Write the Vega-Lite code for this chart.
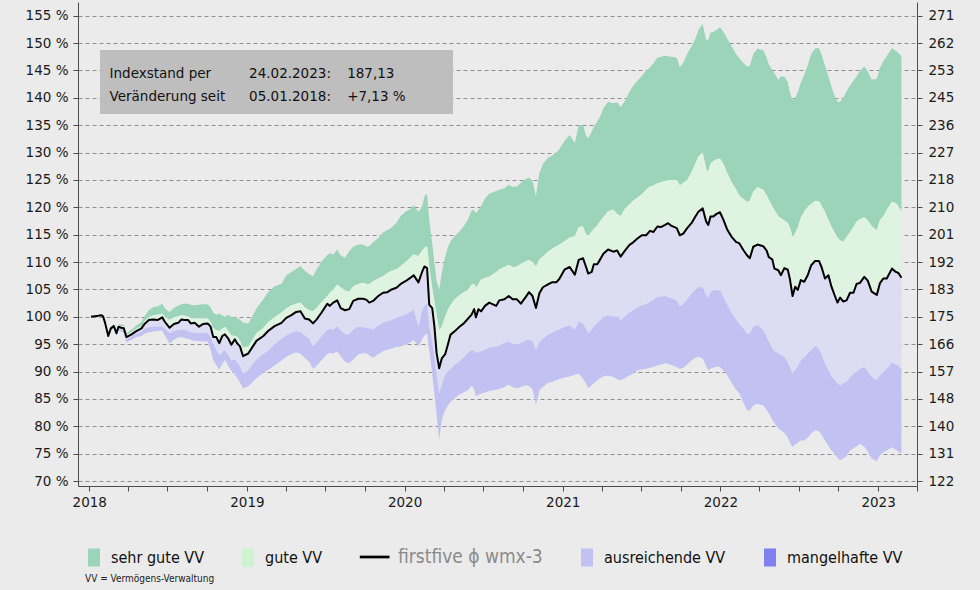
{
"$schema": "https://vega.github.io/schema/vega-lite/v6.json",
"width": 839, "height": 484,
"autosize": {"type": "none"},
"padding": {"left": 78, "top": 2, "right": 63, "bottom": 104},
"background": "#ebebeb",
"config": {"view": {"stroke": null}, "axis": {"labelFont": "DejaVu Sans", "labelFontSize": 13.5, "labelColor": "#1a1a1a", "domainColor": "#4d4d4d", "tickColor": "#4d4d4d", "tickSize": 5, "domainWidth": 1, "tickWidth": 1, "labelOverlap": false}},
"data": {"values": [
{"d":"2018-01-05","g1":100,"g2":100,"l":100,"p1":100,"p2":100},
{"d":"2018-01-22","g1":100.2,"g2":100.2,"l":100.2,"p1":100.2,"p2":100.2},
{"d":"2018-01-29","g1":100.3,"g2":100.3,"l":100.3,"p1":100.3,"p2":100.3},
{"d":"2018-02-02","g1":100.1,"g2":100.1,"l":100.1,"p1":100.1,"p2":100.1},
{"d":"2018-02-07","g1":98.8,"g2":98.8,"l":98.8,"p1":98.8,"p2":98.8},
{"d":"2018-02-14","g1":96.7,"g2":96.6,"l":96.5,"p1":96.4,"p2":96.3},
{"d":"2018-02-20","g1":98.2,"g2":98.05,"l":97.9,"p1":97.75,"p2":97.6},
{"d":"2018-02-27","g1":98.7,"g2":98.5,"l":98.3,"p1":98.1,"p2":97.9},
{"d":"2018-03-05","g1":97.5,"g2":97.25,"l":97.0,"p1":96.75,"p2":96.5},
{"d":"2018-03-10","g1":98.7,"g2":98.45,"l":98.2,"p1":97.9,"p2":97.6},
{"d":"2018-03-16","g1":98.6,"g2":98.3,"l":98.0,"p1":97.7,"p2":97.3},
{"d":"2018-03-22","g1":98.6,"g2":98.3,"l":97.9,"p1":97.5,"p2":97.0},
{"d":"2018-03-28","g1":97.0,"g2":96.7,"l":96.3,"p1":95.9,"p2":95.3},
{"d":"2018-04-09","g1":97.7,"g2":97.2,"l":96.8,"p1":96.4,"p2":95.8},
{"d":"2018-04-20","g1":98.4,"g2":97.8,"l":97.4,"p1":96.9,"p2":96.3},
{"d":"2018-05-02","g1":99.1,"g2":98.3,"l":97.9,"p1":97.3,"p2":96.5},
{"d":"2018-05-09","g1":100.1,"g2":99.2,"l":98.7,"p1":97.8,"p2":96.9},
{"d":"2018-05-19","g1":101.2,"g2":99.9,"l":99.4,"p1":98.1,"p2":97.2},
{"d":"2018-05-29","g1":101.8,"g2":100.3,"l":99.5,"p1":98.2,"p2":97.3},
{"d":"2018-06-08","g1":101.9,"g2":100.4,"l":99.4,"p1":98.2,"p2":97.4},
{"d":"2018-06-19","g1":102.4,"g2":100.6,"l":99.9,"p1":98.3,"p2":97.5},
{"d":"2018-06-25","g1":101.5,"g2":100.0,"l":99.1,"p1":97.8,"p2":96.6},
{"d":"2018-07-06","g1":100.9,"g2":99.4,"l":98.0,"p1":97.0,"p2":95.1},
{"d":"2018-07-16","g1":101.6,"g2":99.9,"l":98.7,"p1":97.4,"p2":95.8},
{"d":"2018-07-26","g1":102.0,"g2":100.1,"l":98.9,"p1":97.6,"p2":96.2},
{"d":"2018-08-02","g1":102.3,"g2":100.3,"l":99.5,"p1":97.7,"p2":96.3},
{"d":"2018-08-10","g1":102.4,"g2":100.2,"l":99.4,"p1":97.6,"p2":96.1},
{"d":"2018-08-18","g1":102.4,"g2":100.0,"l":99.4,"p1":97.4,"p2":96.0},
{"d":"2018-08-24","g1":102.2,"g2":99.8,"l":98.8,"p1":97.2,"p2":95.8},
{"d":"2018-09-02","g1":102.1,"g2":99.7,"l":98.9,"p1":97.1,"p2":95.6},
{"d":"2018-09-12","g1":102.2,"g2":99.7,"l":98.2,"p1":97.0,"p2":95.6},
{"d":"2018-09-22","g1":102.3,"g2":99.7,"l":98.7,"p1":97.1,"p2":95.5},
{"d":"2018-10-02","g1":102.3,"g2":99.7,"l":98.8,"p1":97.1,"p2":95.5},
{"d":"2018-10-09","g1":101.7,"g2":99.0,"l":98.2,"p1":96.3,"p2":94.0},
{"d":"2018-10-15","g1":100.8,"g2":97.9,"l":96.3,"p1":95.1,"p2":92.1},
{"d":"2018-10-22","g1":100.4,"g2":97.6,"l":96.3,"p1":94.0,"p2":91.2},
{"d":"2018-10-29","g1":100.6,"g2":97.4,"l":95.2,"p1":93.0,"p2":90.4},
{"d":"2018-11-05","g1":100.3,"g2":97.8,"l":96.5,"p1":93.5,"p2":91.4},
{"d":"2018-11-11","g1":100.0,"g2":98.2,"l":96.8,"p1":94.0,"p2":92.1},
{"d":"2018-11-19","g1":100.4,"g2":97.4,"l":96.0,"p1":93.0,"p2":91.0},
{"d":"2018-11-26","g1":100.0,"g2":96.6,"l":94.9,"p1":92.0,"p2":90.1},
{"d":"2018-12-04","g1":99.9,"g2":96.5,"l":95.9,"p1":92.3,"p2":89.5},
{"d":"2018-12-10","g1":99.7,"g2":96.3,"l":95.1,"p1":91.6,"p2":88.8},
{"d":"2018-12-16","g1":99.5,"g2":95.6,"l":94.6,"p1":91.0,"p2":88.0},
{"d":"2018-12-23","g1":98.9,"g2":94.4,"l":92.8,"p1":89.6,"p2":86.9},
{"d":"2019-01-04","g1":98.8,"g2":94.6,"l":93.3,"p1":90.3,"p2":87.3},
{"d":"2019-01-23","g1":101.5,"g2":97.0,"l":95.6,"p1":92.2,"p2":88.8},
{"d":"2019-02-08","g1":103.2,"g2":98.0,"l":96.5,"p1":93.2,"p2":89.8},
{"d":"2019-02-19","g1":104.5,"g2":99.0,"l":97.4,"p1":93.8,"p2":90.3},
{"d":"2019-03-06","g1":105.6,"g2":99.9,"l":98.3,"p1":95.0,"p2":91.1},
{"d":"2019-03-22","g1":106.0,"g2":100.8,"l":98.9,"p1":96.0,"p2":92.0},
{"d":"2019-04-02","g1":107.6,"g2":101.5,"l":99.8,"p1":96.6,"p2":92.7},
{"d":"2019-04-14","g1":108.2,"g2":102.1,"l":100.3,"p1":97.1,"p2":93.2},
{"d":"2019-04-25","g1":108.8,"g2":102.4,"l":100.9,"p1":97.4,"p2":93.5},
{"d":"2019-05-05","g1":109.3,"g2":102.6,"l":101.0,"p1":97.2,"p2":93.3},
{"d":"2019-05-15","g1":108.4,"g2":101.7,"l":99.7,"p1":96.6,"p2":92.5},
{"d":"2019-05-25","g1":107.8,"g2":101.2,"l":99.5,"p1":95.9,"p2":91.8},
{"d":"2019-06-03","g1":107.4,"g2":101.0,"l":98.8,"p1":94.6,"p2":90.5},
{"d":"2019-06-11","g1":108.6,"g2":101.6,"l":99.5,"p1":95.3,"p2":91.0},
{"d":"2019-06-22","g1":110.0,"g2":102.6,"l":100.7,"p1":96.4,"p2":92.0},
{"d":"2019-07-06","g1":111.3,"g2":103.8,"l":102.4,"p1":97.6,"p2":93.2},
{"d":"2019-07-12","g1":111.6,"g2":104.4,"l":102.0,"p1":97.8,"p2":93.4},
{"d":"2019-07-20","g1":111.4,"g2":105.0,"l":102.6,"p1":97.7,"p2":93.3},
{"d":"2019-07-29","g1":112.3,"g2":105.9,"l":103.0,"p1":98.3,"p2":93.7},
{"d":"2019-08-06","g1":111.2,"g2":105.4,"l":101.6,"p1":97.5,"p2":92.8},
{"d":"2019-08-16","g1":110.8,"g2":104.8,"l":101.2,"p1":96.8,"p2":91.8},
{"d":"2019-08-26","g1":112.0,"g2":104.6,"l":101.4,"p1":96.8,"p2":91.5},
{"d":"2019-09-04","g1":112.8,"g2":105.6,"l":102.9,"p1":97.7,"p2":92.2},
{"d":"2019-09-16","g1":113.2,"g2":106.0,"l":103.3,"p1":98.2,"p2":93.1},
{"d":"2019-09-27","g1":113.2,"g2":106.2,"l":103.3,"p1":98.1,"p2":93.4},
{"d":"2019-10-05","g1":112.8,"g2":106.0,"l":103.1,"p1":98.0,"p2":93.3},
{"d":"2019-10-11","g1":112.9,"g2":106.0,"l":102.6,"p1":97.9,"p2":93.0},
{"d":"2019-10-20","g1":113.6,"g2":106.5,"l":102.9,"p1":97.7,"p2":92.5},
{"d":"2019-11-01","g1":114.4,"g2":107.0,"l":103.8,"p1":98.4,"p2":93.2},
{"d":"2019-11-12","g1":115.4,"g2":107.4,"l":104.4,"p1":98.9,"p2":93.7},
{"d":"2019-11-22","g1":115.8,"g2":108.0,"l":104.5,"p1":99.2,"p2":94.0},
{"d":"2019-12-02","g1":116.3,"g2":108.4,"l":105.0,"p1":99.4,"p2":94.2},
{"d":"2019-12-13","g1":117.2,"g2":108.7,"l":105.3,"p1":99.8,"p2":94.5},
{"d":"2019-12-23","g1":118.4,"g2":109.3,"l":106.0,"p1":100.1,"p2":94.6},
{"d":"2020-01-03","g1":119.2,"g2":110.0,"l":106.5,"p1":100.4,"p2":94.9},
{"d":"2020-01-14","g1":119.7,"g2":110.8,"l":107.1,"p1":100.9,"p2":95.3},
{"d":"2020-01-22","g1":120.4,"g2":111.4,"l":107.6,"p1":101.3,"p2":95.8},
{"d":"2020-02-02","g1":119.2,"g2":111.1,"l":106.3,"p1":98.2,"p2":94.6},
{"d":"2020-02-10","g1":120.0,"g2":112.0,"l":108.1,"p1":101.0,"p2":95.8},
{"d":"2020-02-16","g1":122.0,"g2":112.6,"l":109.2,"p1":102.0,"p2":96.6},
{"d":"2020-02-22","g1":122.5,"g2":112.9,"l":108.9,"p1":102.5,"p2":97.0},
{"d":"2020-02-27","g1":117.7,"g2":109.2,"l":102.2,"p1":98.2,"p2":94.0},
{"d":"2020-03-05","g1":113.3,"g2":105.2,"l":101.6,"p1":95.3,"p2":89.6},
{"d":"2020-03-10","g1":109.8,"g2":102.8,"l":98.2,"p1":92.4,"p2":85.8},
{"d":"2020-03-15","g1":106.6,"g2":100.4,"l":93.4,"p1":89.5,"p2":82.2},
{"d":"2020-03-21","g1":104.9,"g2":97.6,"l":90.6,"p1":86.0,"p2":77.5},
{"d":"2020-03-27","g1":108.0,"g2":98.2,"l":92.4,"p1":87.6,"p2":81.2},
{"d":"2020-04-04","g1":111.0,"g2":100.1,"l":93.2,"p1":89.4,"p2":83.0},
{"d":"2020-04-10","g1":112.7,"g2":101.3,"l":94.9,"p1":90.0,"p2":83.8},
{"d":"2020-04-16","g1":113.7,"g2":102.1,"l":96.7,"p1":90.5,"p2":84.4},
{"d":"2020-04-25","g1":114.7,"g2":103.1,"l":97.3,"p1":91.2,"p2":85.1},
{"d":"2020-05-07","g1":115.6,"g2":104.0,"l":98.2,"p1":91.9,"p2":85.8},
{"d":"2020-05-17","g1":116.6,"g2":104.5,"l":98.8,"p1":92.6,"p2":86.2},
{"d":"2020-05-26","g1":117.7,"g2":104.9,"l":99.6,"p1":93.4,"p2":86.6},
{"d":"2020-06-04","g1":119.4,"g2":105.9,"l":100.4,"p1":93.9,"p2":87.4},
{"d":"2020-06-10","g1":119.5,"g2":106.0,"l":101.4,"p1":93.8,"p2":86.8},
{"d":"2020-06-14","g1":118.9,"g2":105.3,"l":99.9,"p1":93.5,"p2":85.5},
{"d":"2020-06-20","g1":119.5,"g2":106.0,"l":101.4,"p1":93.5,"p2":85.7},
{"d":"2020-06-26","g1":120.2,"g2":106.8,"l":101.0,"p1":93.7,"p2":86.0},
{"d":"2020-07-05","g1":121.6,"g2":107.1,"l":102.0,"p1":94.0,"p2":86.2},
{"d":"2020-07-15","g1":122.5,"g2":107.3,"l":102.6,"p1":94.4,"p2":86.5},
{"d":"2020-07-31","g1":123.0,"g2":108.2,"l":102.0,"p1":94.6,"p2":86.7},
{"d":"2020-08-07","g1":123.2,"g2":108.7,"l":103.0,"p1":94.7,"p2":86.8},
{"d":"2020-08-19","g1":123.5,"g2":109.1,"l":103.2,"p1":95.2,"p2":87.2},
{"d":"2020-08-29","g1":124.1,"g2":109.5,"l":103.8,"p1":95.5,"p2":87.6},
{"d":"2020-09-07","g1":123.7,"g2":109.1,"l":103.2,"p1":95.1,"p2":87.2},
{"d":"2020-09-17","g1":123.8,"g2":109.2,"l":103.2,"p1":95.0,"p2":86.9},
{"d":"2020-09-26","g1":124.5,"g2":109.7,"l":102.4,"p1":95.2,"p2":87.2},
{"d":"2020-10-08","g1":125.2,"g2":110.2,"l":103.7,"p1":95.7,"p2":87.5},
{"d":"2020-10-15","g1":125.4,"g2":110.4,"l":104.5,"p1":95.8,"p2":87.3},
{"d":"2020-10-23","g1":124.9,"g2":110.0,"l":103.8,"p1":95.5,"p2":86.8},
{"d":"2020-10-31","g1":122.0,"g2":109.2,"l":101.6,"p1":94.0,"p2":83.9},
{"d":"2020-11-08","g1":126.3,"g2":110.5,"l":104.3,"p1":95.4,"p2":86.6},
{"d":"2020-11-16","g1":127.9,"g2":111.0,"l":105.4,"p1":96.0,"p2":87.2},
{"d":"2020-11-27","g1":129.0,"g2":111.9,"l":105.9,"p1":96.7,"p2":87.9},
{"d":"2020-12-07","g1":129.4,"g2":112.4,"l":106.3,"p1":97.1,"p2":88.1},
{"d":"2020-12-17","g1":130.0,"g2":112.9,"l":106.3,"p1":97.5,"p2":88.4},
{"d":"2020-12-24","g1":130.6,"g2":113.2,"l":106.9,"p1":97.7,"p2":88.6},
{"d":"2021-01-05","g1":132.1,"g2":113.8,"l":108.6,"p1":98.2,"p2":88.9},
{"d":"2021-01-17","g1":133.2,"g2":114.5,"l":109.1,"p1":98.4,"p2":89.1},
{"d":"2021-01-29","g1":131.8,"g2":114.7,"l":107.7,"p1":97.7,"p2":89.4},
{"d":"2021-02-07","g1":135.0,"g2":116.4,"l":110.4,"p1":99.2,"p2":89.6},
{"d":"2021-02-17","g1":135.1,"g2":116.5,"l":110.7,"p1":98.8,"p2":88.7},
{"d":"2021-02-24","g1":133.1,"g2":115.0,"l":109.1,"p1":97.8,"p2":87.8},
{"d":"2021-03-01","g1":132.6,"g2":114.8,"l":107.9,"p1":97.0,"p2":86.9},
{"d":"2021-03-09","g1":133.8,"g2":115.6,"l":108.2,"p1":97.6,"p2":87.5},
{"d":"2021-03-14","g1":134.7,"g2":116.1,"l":109.6,"p1":98.2,"p2":87.9},
{"d":"2021-03-22","g1":135.7,"g2":116.7,"l":109.6,"p1":98.9,"p2":88.4},
{"d":"2021-03-28","g1":136.5,"g2":117.4,"l":110.4,"p1":99.3,"p2":88.8},
{"d":"2021-04-05","g1":138.1,"g2":118.2,"l":111.5,"p1":99.9,"p2":89.1},
{"d":"2021-04-16","g1":139.3,"g2":119.3,"l":112.3,"p1":100.3,"p2":89.3},
{"d":"2021-04-28","g1":139.0,"g2":119.6,"l":111.9,"p1":100.0,"p2":89.0},
{"d":"2021-05-07","g1":139.2,"g2":118.8,"l":112.1,"p1":100.1,"p2":88.6},
{"d":"2021-05-15","g1":138.3,"g2":118.4,"l":111.0,"p1":99.4,"p2":88.4},
{"d":"2021-05-25","g1":139.4,"g2":119.8,"l":112.1,"p1":100.0,"p2":88.8},
{"d":"2021-06-04","g1":141.0,"g2":120.5,"l":113.1,"p1":100.8,"p2":89.3},
{"d":"2021-06-13","g1":142.2,"g2":121.2,"l":113.6,"p1":101.2,"p2":89.6},
{"d":"2021-06-23","g1":143.1,"g2":121.8,"l":114.3,"p1":101.7,"p2":90.2},
{"d":"2021-07-03","g1":144.0,"g2":122.4,"l":114.9,"p1":102.1,"p2":90.4},
{"d":"2021-07-13","g1":145.0,"g2":123.2,"l":114.9,"p1":102.3,"p2":90.5},
{"d":"2021-07-22","g1":145.6,"g2":123.8,"l":115.7,"p1":102.7,"p2":90.7},
{"d":"2021-07-30","g1":146.3,"g2":124.0,"l":115.5,"p1":103.1,"p2":90.9},
{"d":"2021-08-08","g1":147.3,"g2":124.4,"l":116.5,"p1":103.6,"p2":91.1},
{"d":"2021-08-16","g1":147.5,"g2":124.6,"l":116.4,"p1":103.7,"p2":91.3},
{"d":"2021-08-26","g1":147.7,"g2":124.8,"l":116.8,"p1":103.8,"p2":91.5},
{"d":"2021-09-02","g1":147.6,"g2":125.0,"l":117.1,"p1":103.6,"p2":91.4},
{"d":"2021-09-10","g1":147.5,"g2":125.0,"l":116.6,"p1":103.4,"p2":91.2},
{"d":"2021-09-22","g1":147.3,"g2":125.0,"l":116.2,"p1":103.0,"p2":90.8},
{"d":"2021-09-29","g1":145.6,"g2":124.0,"l":114.9,"p1":101.9,"p2":90.5},
{"d":"2021-10-07","g1":146.4,"g2":124.5,"l":115.2,"p1":102.4,"p2":90.7},
{"d":"2021-10-16","g1":148.0,"g2":125.0,"l":116.2,"p1":103.2,"p2":91.3},
{"d":"2021-10-26","g1":149.4,"g2":126.4,"l":117.1,"p1":104.2,"p2":92.0},
{"d":"2021-11-03","g1":150.6,"g2":127.8,"l":118.2,"p1":104.8,"p2":92.5},
{"d":"2021-11-11","g1":152.4,"g2":129.3,"l":119.2,"p1":105.4,"p2":92.7},
{"d":"2021-11-21","g1":153.5,"g2":130.0,"l":119.8,"p1":105.4,"p2":92.4},
{"d":"2021-11-29","g1":150.5,"g2":127.0,"l":117.4,"p1":104.0,"p2":91.0},
{"d":"2021-12-04","g1":150.6,"g2":126.5,"l":116.8,"p1":103.5,"p2":90.2},
{"d":"2021-12-09","g1":151.9,"g2":128.0,"l":118.3,"p1":104.6,"p2":90.5},
{"d":"2021-12-15","g1":152.0,"g2":128.4,"l":118.3,"p1":104.8,"p2":90.7},
{"d":"2021-12-23","g1":152.4,"g2":128.8,"l":118.8,"p1":104.9,"p2":90.9},
{"d":"2021-12-31","g1":152.9,"g2":128.9,"l":119.1,"p1":104.8,"p2":90.9},
{"d":"2022-01-08","g1":152.0,"g2":127.9,"l":117.7,"p1":103.6,"p2":90.2},
{"d":"2022-01-17","g1":150.8,"g2":126.2,"l":115.9,"p1":102.2,"p2":89.3},
{"d":"2022-01-27","g1":149.4,"g2":124.6,"l":114.6,"p1":100.7,"p2":87.9},
{"d":"2022-02-06","g1":148.0,"g2":123.3,"l":113.7,"p1":99.5,"p2":86.7},
{"d":"2022-02-14","g1":147.2,"g2":122.1,"l":113.4,"p1":98.6,"p2":86.0},
{"d":"2022-02-23","g1":146.4,"g2":121.5,"l":112.2,"p1":97.9,"p2":84.4},
{"d":"2022-03-03","g1":145.7,"g2":121.0,"l":111.3,"p1":97.0,"p2":83.0},
{"d":"2022-03-10","g1":145.8,"g2":121.2,"l":110.7,"p1":96.9,"p2":82.9},
{"d":"2022-03-18","g1":148.0,"g2":122.9,"l":112.8,"p1":98.2,"p2":83.8},
{"d":"2022-03-28","g1":149.0,"g2":123.7,"l":113.2,"p1":98.5,"p2":84.1},
{"d":"2022-04-10","g1":148.7,"g2":123.2,"l":112.9,"p1":97.6,"p2":83.8},
{"d":"2022-04-18","g1":147.3,"g2":122.2,"l":112.1,"p1":96.3,"p2":83.0},
{"d":"2022-04-23","g1":146.1,"g2":121.4,"l":110.9,"p1":95.5,"p2":82.4},
{"d":"2022-05-01","g1":145.1,"g2":120.2,"l":110.5,"p1":94.3,"p2":81.2},
{"d":"2022-05-06","g1":144.5,"g2":119.5,"l":108.8,"p1":93.8,"p2":80.6},
{"d":"2022-05-15","g1":143.3,"g2":118.3,"l":108.5,"p1":93.3,"p2":79.6},
{"d":"2022-05-21","g1":143.9,"g2":118.0,"l":107.6,"p1":93.1,"p2":79.3},
{"d":"2022-05-29","g1":143.9,"g2":117.6,"l":108.9,"p1":92.7,"p2":78.8},
{"d":"2022-06-06","g1":142.9,"g2":117.2,"l":108.6,"p1":91.7,"p2":77.9},
{"d":"2022-06-11","g1":140.9,"g2":116.3,"l":106.8,"p1":90.8,"p2":77.1},
{"d":"2022-06-17","g1":139.6,"g2":114.6,"l":103.8,"p1":89.6,"p2":76.2},
{"d":"2022-06-23","g1":140.0,"g2":115.3,"l":105.5,"p1":90.3,"p2":76.7},
{"d":"2022-06-29","g1":141.0,"g2":116.3,"l":104.9,"p1":91.0,"p2":77.0},
{"d":"2022-07-06","g1":142.8,"g2":118.1,"l":106.7,"p1":92.0,"p2":77.4},
{"d":"2022-07-14","g1":144.2,"g2":119.3,"l":106.4,"p1":92.6,"p2":77.4},
{"d":"2022-07-22","g1":145.9,"g2":120.1,"l":107.6,"p1":93.3,"p2":77.9},
{"d":"2022-07-30","g1":148.0,"g2":120.6,"l":109.4,"p1":93.9,"p2":78.7},
{"d":"2022-08-08","g1":149.0,"g2":121.2,"l":110.2,"p1":94.7,"p2":79.3},
{"d":"2022-08-17","g1":149.1,"g2":121.1,"l":110.2,"p1":94.2,"p2":79.1},
{"d":"2022-08-23","g1":147.9,"g2":120.4,"l":109.1,"p1":93.2,"p2":78.5},
{"d":"2022-08-31","g1":145.9,"g2":119.2,"l":107.0,"p1":91.5,"p2":77.4},
{"d":"2022-09-08","g1":143.9,"g2":117.7,"l":107.6,"p1":90.2,"p2":76.4},
{"d":"2022-09-15","g1":142.0,"g2":116.5,"l":105.5,"p1":89.1,"p2":75.6},
{"d":"2022-09-23","g1":140.2,"g2":115.3,"l":103.8,"p1":88.4,"p2":75.0},
{"d":"2022-09-29","g1":139.3,"g2":114.5,"l":102.6,"p1":87.8,"p2":74.2},
{"d":"2022-10-05","g1":139.3,"g2":114.0,"l":103.5,"p1":87.5,"p2":73.8},
{"d":"2022-10-12","g1":140.0,"g2":113.7,"l":102.8,"p1":87.8,"p2":74.1},
{"d":"2022-10-20","g1":141.2,"g2":114.6,"l":103.0,"p1":88.1,"p2":74.6},
{"d":"2022-10-28","g1":142.2,"g2":115.5,"l":104.4,"p1":89.0,"p2":75.6},
{"d":"2022-11-05","g1":143.1,"g2":116.4,"l":104.4,"p1":89.6,"p2":76.0},
{"d":"2022-11-12","g1":143.9,"g2":117.4,"l":106.0,"p1":89.9,"p2":76.3},
{"d":"2022-11-20","g1":145.0,"g2":117.8,"l":106.2,"p1":90.5,"p2":76.8},
{"d":"2022-11-30","g1":145.7,"g2":118.2,"l":107.3,"p1":90.8,"p2":76.3},
{"d":"2022-12-08","g1":144.8,"g2":117.6,"l":106.6,"p1":90.0,"p2":75.4},
{"d":"2022-12-17","g1":143.3,"g2":116.6,"l":104.6,"p1":89.0,"p2":74.1},
{"d":"2022-12-29","g1":143.5,"g2":115.8,"l":104.0,"p1":88.4,"p2":73.6},
{"d":"2023-01-05","g1":145.4,"g2":117.7,"l":106.1,"p1":89.3,"p2":74.7},
{"d":"2023-01-13","g1":146.7,"g2":118.3,"l":107.0,"p1":89.9,"p2":75.2},
{"d":"2023-01-21","g1":147.6,"g2":119.5,"l":107.0,"p1":90.5,"p2":75.6},
{"d":"2023-02-02","g1":149.1,"g2":121.0,"l":108.8,"p1":91.6,"p2":76.2},
{"d":"2023-02-11","g1":148.6,"g2":120.8,"l":108.2,"p1":91.3,"p2":75.7},
{"d":"2023-02-17","g1":148.2,"g2":120.2,"l":108.0,"p1":91.0,"p2":75.4},
{"d":"2023-02-24","g1":147.6,"g2":119.2,"l":107.13,"p1":90.5,"p2":75.0}
]},
"encoding": {
  "x": {"field": "d", "type": "temporal", "title": null,
    "scale": {"type": "utc", "domain": [{"year": 2017, "month": 12, "date": 6, "utc": true}, {"year": 2023, "month": 4, "date": 1, "utc": true}]},
    "axis": {"values": [
      {"year": 2018, "month": 1, "date": 1, "utc": true}, {"year": 2018, "month": 4, "date": 1, "utc": true}, {"year": 2018, "month": 7, "date": 1, "utc": true}, {"year": 2018, "month": 10, "date": 1, "utc": true},
      {"year": 2019, "month": 1, "date": 1, "utc": true}, {"year": 2019, "month": 4, "date": 1, "utc": true}, {"year": 2019, "month": 7, "date": 1, "utc": true}, {"year": 2019, "month": 10, "date": 1, "utc": true},
      {"year": 2020, "month": 1, "date": 1, "utc": true}, {"year": 2020, "month": 4, "date": 1, "utc": true}, {"year": 2020, "month": 7, "date": 1, "utc": true}, {"year": 2020, "month": 10, "date": 1, "utc": true},
      {"year": 2021, "month": 1, "date": 1, "utc": true}, {"year": 2021, "month": 4, "date": 1, "utc": true}, {"year": 2021, "month": 7, "date": 1, "utc": true}, {"year": 2021, "month": 10, "date": 1, "utc": true},
      {"year": 2022, "month": 1, "date": 1, "utc": true}, {"year": 2022, "month": 4, "date": 1, "utc": true}, {"year": 2022, "month": 7, "date": 1, "utc": true}, {"year": 2022, "month": 10, "date": 1, "utc": true},
      {"year": 2023, "month": 1, "date": 1, "utc": true}, {"year": 2023, "month": 4, "date": 1, "utc": true}],
      "labelExpr": "utcmonth(datum.value) == 0 ? utcFormat(datum.value, '%Y') : ''",
      "grid": false, "labelPadding": 4, "labelFlush": false}
  }
},
"layer": [
  {"mark": {"type": "area", "color": "#9bd4b9", "opacity": 1},
   "encoding": {"y": {"field": "g1", "type": "quantitative", "title": null,
       "scale": {"domain": [69.1, 157.5], "nice": false, "zero": false},
       "axis": {"orient": "left", "values": [70,75,80,85,90,95,100,105,110,115,120,125,130,135,140,145,150,155], "labelExpr": "datum.value + ' %'", "grid": true, "gridColor": "#8f8f8f", "gridDash": [4, 3], "gridWidth": 1, "labelPadding": 5}},
     "y2": {"field": "g2"}}},
  {"mark": {"type": "area", "color": "#dff3e1", "opacity": 1},
   "encoding": {"y": {"field": "g2", "type": "quantitative", "axis": null}, "y2": {"field": "l"}}},
  {"mark": {"type": "area", "color": "#dcdcf3", "opacity": 1},
   "encoding": {"y": {"field": "l", "type": "quantitative", "axis": null}, "y2": {"field": "p1"}}},
  {"mark": {"type": "area", "color": "#c1c1f2", "opacity": 1},
   "encoding": {"y": {"field": "p1", "type": "quantitative", "axis": null}, "y2": {"field": "p2"}}},
  {"mark": {"type": "line", "color": "#000000", "strokeWidth": 2, "strokeJoin": "round"},
   "encoding": {"y": {"field": "l", "type": "quantitative", "title": null,
       "axis": {"orient": "right", "values": [70,75,80,85,90,95,100,105,110,115,120,125,130,135,140,145,150,155], "labelExpr": "format(round(datum.value * 1.7468), 'd')", "grid": false, "labelPadding": 6}}}},
  {"data": {"values": [{"d": "2018-01-26", "d2": "2020-04-22", "v": 148.73, "v2": 137.04}], "format": {"parse": {"d": "date", "d2": "date"}}},
   "mark": {"type": "rect", "color": "#bebebe"},
   "encoding": {"x2": {"field": "d2"}, "y": {"field": "v", "type": "quantitative", "axis": null}, "y2": {"field": "v2"}}},
  {"data": {"values": [
     {"d": "2018-02-17", "v": 143.67, "t": "Indexstand per"},
     {"d": "2019-01-06", "v": 143.67, "t": "24.02.2023:"},
     {"d": "2019-08-21", "v": 143.67, "t": "187,13"},
     {"d": "2018-02-17", "v": 139.47, "t": "Veränderung seit"},
     {"d": "2019-01-06", "v": 139.47, "t": "05.01.2018:"},
     {"d": "2019-08-21", "v": 139.47, "t": "+7,13 %"}]},
   "mark": {"type": "text", "align": "left", "baseline": "alphabetic", "font": "DejaVu Sans", "fontSize": 13.5, "color": "#111111"},
   "encoding": {"y": {"field": "v", "type": "quantitative", "axis": null}, "text": {"field": "t"}}},
  {"data": {"values": [
     {"d": "2020-01-01", "v": 100, "cat": "sehr gute VV"},
     {"d": "2020-01-01", "v": 100, "cat": "gute VV"},
     {"d": "2020-01-01", "v": 100, "cat": "firstfive ϕ wmx-3"},
     {"d": "2020-01-01", "v": 100, "cat": "ausreichende VV"},
     {"d": "2020-01-01", "v": 100, "cat": "mangelhafte VV"}]},
   "mark": {"type": "square", "opacity": 0},
   "encoding": {"y": {"field": "v", "type": "quantitative", "axis": null},
     "color": {"field": "cat", "type": "nominal",
       "scale": {"domain": ["sehr gute VV", "gute VV", "firstfive ϕ wmx-3", "ausreichende VV", "mangelhafte VV"], "range": ["#9bd4b9", "#cff3d1", "#000000", "#c1c1f2", "#8080f0"]},
       "legend": {"orient": "none", "legendX": 7, "legendY": 546, "direction": "horizontal",
         "title": "VV = Vermögens-Verwaltung", "titleOrient": "bottom", "titleAnchor": "start", "titleFontSize": 10, "titleFontWeight": "normal", "titleFont": "DejaVu Sans Condensed, Liberation Sans Narrow, DejaVu Sans", "titleColor": "#222222", "titlePadding": 7,
         "symbolSize": 324, "symbolStrokeWidth": 0, "symbolOpacity": 1,
         "labelFontSize": 16, "labelFont": "DejaVu Sans Condensed, Liberation Sans Narrow, DejaVu Sans", "labelColor": "#111111", "labelOffset": 8, "columnPadding": 35,
         "encode": {
           "symbols": {"update": {"shape": {"signal": "datum.index == 2 ? 'M-0.8,-0.15H2.5V0.15H-0.8Z' : 'M-0.667,-1H0.667V1H-0.667Z'"}, "opacity": {"value": 1}, "fillOpacity": {"value": 1}, "size": {"value": 324}}},
           "labels": {"update": {"fill": {"signal": "datum.index == 2 ? '#8a8a8a' : '#111111'"}, "dx": {"signal": "datum.index == 2 ? 14 : 0"}, "fontSize": {"signal": "datum.index == 2 ? 19 : 16"}}}
         }}}}}
],
"resolve": {"axis": {"y": "independent"}}
}
